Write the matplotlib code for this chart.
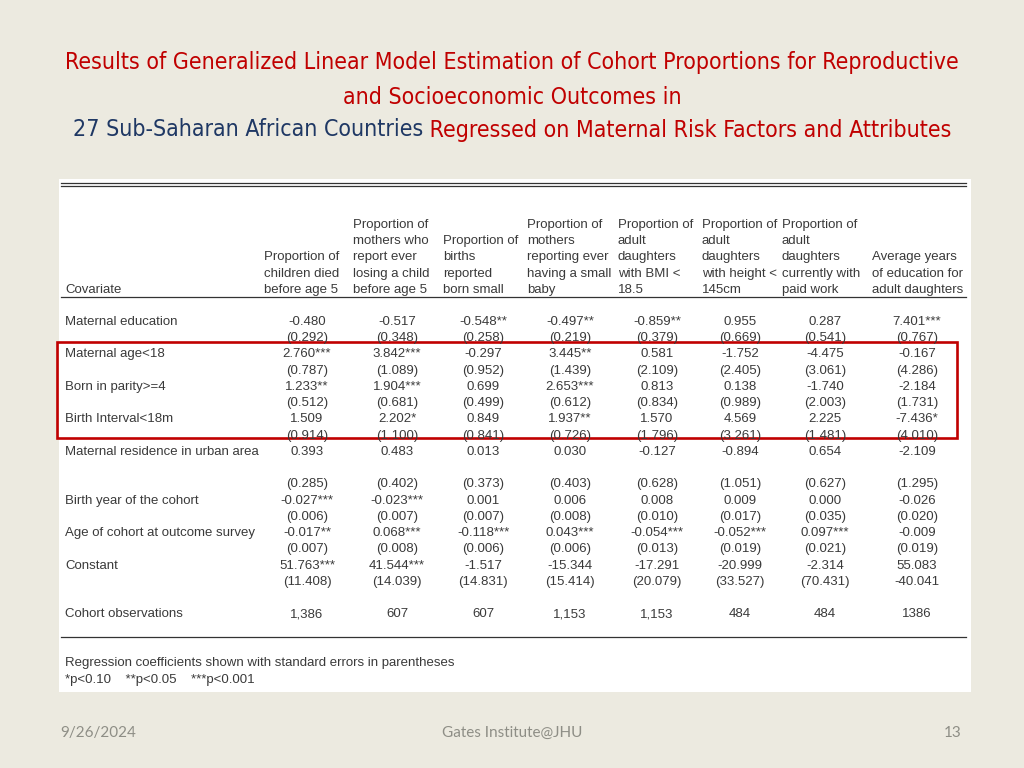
import matplotlib
matplotlib.use("Agg")
import matplotlib.pyplot as plt
from matplotlib.patches import Rectangle

title_lines = ["Results of Generalized Linear Model Estimation of Cohort Proportions for Reproductive",
               "and Socioeconomic Outcomes in"]
title_blue = "27 Sub-Saharan African Countries"
title_red = " Regressed on Maternal Risk Factors and Attributes"

headers = ["Proportion of\nchildren died\nbefore age 5",
           "Proportion of\nmothers who\nreport ever\nlosing a child\nbefore age 5",
           "Proportion of\nbirths\nreported\nborn small",
           "Proportion of\nmothers\nreporting ever\nhaving a small\nbaby",
           "Proportion of\nadult\ndaughters\nwith BMI <\n18.5",
           "Proportion of\nadult\ndaughters\nwith height <\n145cm",
           "Proportion of\nadult\ndaughters\ncurrently with\npaid work",
           "Average years\nof education for\nadult daughters"]

covariates = ["Maternal education", "Maternal age<18", "Born in parity>=4", "Birth Interval<18m",
              "Maternal residence in urban area", "Birth year of the cohort",
              "Age of cohort at outcome survey", "Constant"]

coefs = [
    ["-0.480", "-0.517", "-0.548**", "-0.497**", "-0.859**", "0.955", "0.287", "7.401***"],
    ["2.760***", "3.842***", "-0.297", "3.445**", "0.581", "-1.752", "-4.475", "-0.167"],
    ["1.233**", "1.904***", "0.699", "2.653***", "0.813", "0.138", "-1.740", "-2.184"],
    ["1.509", "2.202*", "0.849", "1.937**", "1.570", "4.569", "2.225", "-7.436*"],
    ["0.393", "0.483", "0.013", "0.030", "-0.127", "-0.894", "0.654", "-2.109"],
    ["-0.027***", "-0.023***", "0.001", "0.006", "0.008", "0.009", "0.000", "-0.026"],
    ["-0.017**", "0.068***", "-0.118***", "0.043***", "-0.054***", "-0.052***", "0.097***", "-0.009"],
    ["51.763***", "41.544***", "-1.517", "-15.344", "-17.291", "-20.999", "-2.314", "55.083"],
]
ses = [
    ["(0.292)", "(0.348)", "(0.258)", "(0.219)", "(0.379)", "(0.669)", "(0.541)", "(0.767)"],
    ["(0.787)", "(1.089)", "(0.952)", "(1.439)", "(2.109)", "(2.405)", "(3.061)", "(4.286)"],
    ["(0.512)", "(0.681)", "(0.499)", "(0.612)", "(0.834)", "(0.989)", "(2.003)", "(1.731)"],
    ["(0.914)", "(1.100)", "(0.841)", "(0.726)", "(1.796)", "(3.261)", "(1.481)", "(4.010)"],
    ["(0.285)", "(0.402)", "(0.373)", "(0.403)", "(0.628)", "(1.051)", "(0.627)", "(1.295)"],
    ["(0.006)", "(0.007)", "(0.007)", "(0.008)", "(0.010)", "(0.017)", "(0.035)", "(0.020)"],
    ["(0.007)", "(0.008)", "(0.006)", "(0.006)", "(0.013)", "(0.019)", "(0.021)", "(0.019)"],
    ["(11.408)", "(14.039)", "(14.831)", "(15.414)", "(20.079)", "(33.527)", "(70.431)", "-40.041"],
]
obs_label = "Cohort observations"
observations = ["1,386", "607", "607", "1,153", "1,153", "484", "484", "1386"]
notes = ["Regression coefficients shown with standard errors in parentheses",
         "*p<0.10    **p<0.05    ***p<0.001"]
footer_date = "9/26/2024"
footer_mid = "Gates Institute@JHU"
footer_page = "13"

# layout (pixels)
bg = "#ECEAE0"
red = "#C00000"
navy = "#1F3864"
ink = "#3A3A3A"
grey = "#8E8E86"
col_x = [307, 397, 483, 570, 657, 740, 825, 917]
head_x = [264, 353, 443, 527, 618, 702, 782, 872]
coef_row = [0, 2, 4, 6, 8, 11, 13, 15]
se_row = [1, 3, 5, 7, 10, 12, 14, 16]
obs_row = 18
y0, dy = 321, 16.25
base = 3.8  # centre -> baseline offset
fs = 9.5
cell = dict(color=ink, fontsize=fs, family="Liberation Sans", va="baseline")

fig = plt.figure(figsize=(10.24, 7.68), dpi=100, facecolor=bg)
ax = fig.add_axes([0, 0, 1, 1])
ax.set_xlim(0, 1024)
ax.set_ylim(768, 0)
ax.axis("off")

# title
title_font = dict(family="DejaVu Sans", stretch="condensed", fontsize=16.6)
ax.text(512, 62, title_lines[0], color=red, ha="center", va="center", **title_font)
ax.text(512, 97, title_lines[1], color=red, ha="center", va="center", **title_font)
fig.canvas.draw()
r = fig.canvas.get_renderer()
tb = ax.text(0, 130, title_blue, color=navy, ha="left", va="center", **title_font)
tr = ax.text(0, 130, title_red, color=red, ha="left", va="center", **title_font)
wb = tb.get_window_extent(r).width
wr = tr.get_window_extent(r).width
x_start = 512 - (wb + wr) / 2
tb.set_x(x_start)
tr.set_x(x_start + wb)

# white panel
ax.add_patch(Rectangle((59, 179), 912, 513, facecolor="white", edgecolor="none"))
for yy in (183.3, 186):
    ax.plot([61, 966], [yy, yy], color="#333333", lw=0.9)
ax.plot([61, 966], [297, 297], color="#333333", lw=0.9)
ax.plot([61, 966], [637, 637], color="#333333", lw=0.9)

# header
ax.text(65, 289 + base, "Covariate", **cell)
for hx, h in zip(head_x, headers):
    lines = h.split("\n")
    for k, line in enumerate(reversed(lines)):
        ax.text(hx, 289 + base - dy * k, line, **cell)

# body
for i, name in enumerate(covariates):
    yc = y0 + dy * coef_row[i] + base
    ys = y0 + dy * se_row[i] + base
    ax.text(65, yc, name, **cell)
    for cx, c, s in zip(col_x, coefs[i], ses[i]):
        ax.text(cx, yc, c, ha="center", **cell)
        ax.text(cx, ys, s, ha="center", **cell)
yo = y0 + dy * obs_row + base
ax.text(65, yo, obs_label, **cell)
for cx, o in zip(col_x, observations):
    ax.text(cx, yo, o, ha="center", **cell)

ax.text(65, 662 + base, notes[0], **cell)
ax.text(65, 679 + base, notes[1], **cell)

# highlight box
ax.add_patch(Rectangle((57, 342), 900, 96, facecolor="none", edgecolor=red, lw=1.9))

# footer
ffont = dict(family=["Lato", "DejaVu Sans"], fontsize=11, color=grey, va="center")
ax.text(60, 733, footer_date, ha="left", **ffont)
ax.text(512, 733, footer_mid, ha="center", **ffont)
ax.text(962, 733, footer_page, ha="right", **ffont)

fig.savefig("out.png", dpi=100, facecolor=bg)
